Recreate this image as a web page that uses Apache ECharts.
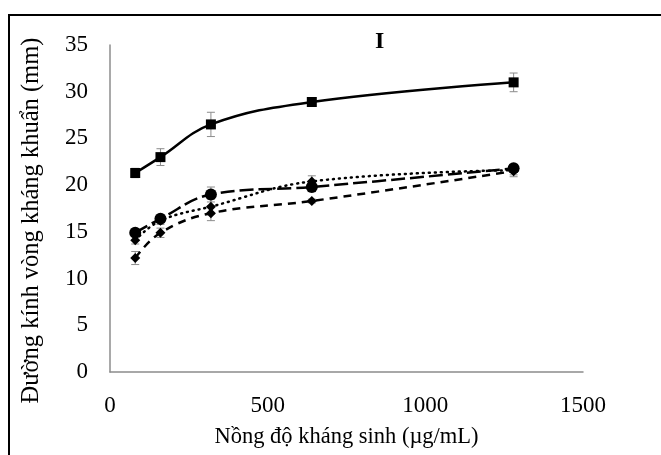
<!DOCTYPE html>
<html>
<head>
<meta charset="utf-8">
<script src="https://cdn.jsdelivr.net/npm/echarts@6/dist/echarts.min.js"></script>
<style>
	html, body { margin: 0; padding: 0; background: #fff; }
	#frame { position: absolute; left: 8px; top: 14px; width: 700px; height: 500px; border: 2px solid #000; }
	#chart { position: absolute; left: 0; top: 0; width: 661px; height: 455px; }
</style>
</head>
<body>
<div id="frame"></div>
<div id="chart"></div>
<script>
// nồng độ kháng sinh
var conc = [80, 160, 320, 640, 1280];

// đường kính vòng kháng khuẩn (mm) + sai số
var sqVals = [21.3, 23.0, 26.5, 28.9, 31.0];
var sqErr = [0.5, 0.9, 1.3, 0.3, 1.0];
var circVals = [14.9, 16.4, 19.0, 19.8, 21.8];
var circErr = [0.4, 0.4, 0.8, 0.5, 0.4];
var dotVals = [14.1, 16.2, 17.7, 20.4, 21.6];
var dotErr = [0.4, 0.4, 0.8, 0.6, 0.5];
var dashVals = [12.2, 14.9, 17.0, 18.3, 21.5];
var dashErr = [0.7, 0.5, 0.8, 0.2, 0.6];

var xTicks = [0, 500, 1000, 1500];
var yTicks = [0, 5, 10, 15, 20, 25, 30, 35];

var font = 'Liberation Serif';

function pairs(vals) {
	let out = [];
	for (let i = 0; i < conc.length; i++) {
		out.push([conc[i], vals[i]]);
	}
	return out;
}

function errData(vals, errs) {
	let out = [];
	for (let i = 0; i < conc.length; i++) {
		out.push([conc[i], vals[i], errs[i]]);
	}
	return out;
}

function renderErr(params, api) {
	let x = api.value(0), y = api.value(1), e = api.value(2);
	let top = api.coord([x, y + e]);
	let bot = api.coord([x, y - e]);
	let w = 4;
	let style = { stroke: '#8c8c8c', lineWidth: 1 };
	return {
		type: 'group',
		children: [
			{ type: 'line', shape: { x1: top[0], y1: top[1], x2: bot[0], y2: bot[1] }, style: style },
			{ type: 'line', shape: { x1: top[0] - w, y1: top[1], x2: top[0] + w, y2: top[1] }, style: style },
			{ type: 'line', shape: { x1: bot[0] - w, y1: bot[1], x2: bot[0] + w, y2: bot[1] }, style: style }
		]
	};
}

function errSeries(vals, errs) {
	return {
		type: 'custom',
		renderItem: renderErr,
		data: errData(vals, errs),
		z: 1,
		silent: true
	};
}

function lineSeries(vals, symbol, size, dash, cap) {
	return {
		type: 'line',
		data: pairs(vals),
		smooth: 0.4,
		symbol: symbol,
		symbolSize: size,
		itemStyle: { color: '#000' },
		lineStyle: { color: '#000', width: 2.5, type: dash, cap: cap || 'butt' },
		z: 3
	};
}

var chart = echarts.init(document.getElementById('chart'));

var option = {
	animation: false,
	grid: { left: 110, top: 45, right: 78, bottom: 83 },
	xAxis: {
		type: 'value',
		min: xTicks[0],
		max: xTicks[xTicks.length - 1],
		interval: 500,
		name: 'Nồng độ kháng sinh (µg/mL)',
		nameLocation: 'middle',
		nameGap: 54,
		nameTextStyle: { fontFamily: font, fontSize: 22.5, color: '#000' },
		axisLine: { show: true, lineStyle: { color: '#8c8c8c', width: 1.5 } },
		axisTick: { show: false },
		splitLine: { show: false },
		axisLabel: { fontFamily: font, fontSize: 23, color: '#000', margin: 22, formatter: function(v) { return '' + v; } }
	},
	yAxis: {
		type: 'value',
		min: yTicks[0],
		max: yTicks[yTicks.length - 1],
		interval: 5,
		name: 'Đường kính vòng kháng khuẩn (mm)',
		nameLocation: 'middle',
		nameGap: 66,
		nameTextStyle: { fontFamily: font, fontSize: 24.5, color: '#000', padding: [0, 24, 0, 0] },
		axisLine: { show: true, lineStyle: { color: '#8c8c8c', width: 1.5 } },
		axisTick: { show: false },
		splitLine: { show: false },
		axisLabel: { fontFamily: font, fontSize: 23, color: '#000', margin: 22 }
	},
	graphic: [{
		type: 'text',
		left: 375,
		top: 30,
		style: { text: 'I', font: 'bold 24px "Liberation Serif"', fill: '#000' }
	}],
	series: [
		errSeries(sqVals, sqErr),
		errSeries(circVals, circErr),
		errSeries(dotVals, dotErr),
		errSeries(dashVals, dashErr),
		lineSeries(sqVals, 'rect', 10, 'solid'),
		lineSeries(circVals, 'circle', 12, [14, 5]),
		lineSeries(dotVals, 'diamond', 10, [1, 5], 'round'),
		lineSeries(dashVals, 'diamond', 10, [8, 6])
	]
};

chart.setOption(option);
</script>
</body>
</html>
